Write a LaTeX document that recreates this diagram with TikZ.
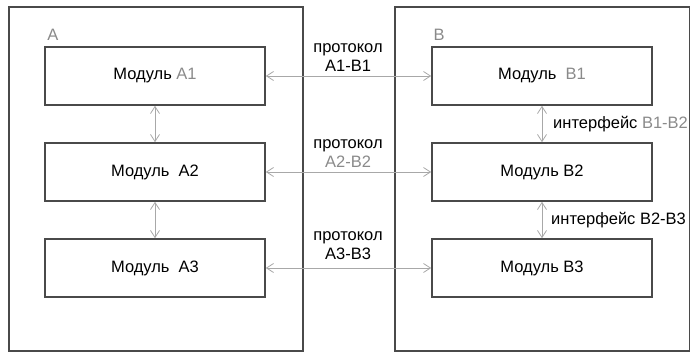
\documentclass[tikz,border=0pt]{standalone}
\usepackage{fontspec}
\setmainfont{Liberation Sans}
\usetikzlibrary{arrows.meta}
\definecolor{frame}{HTML}{4A4A4A}
\definecolor{link}{HTML}{A8A8A8}
\definecolor{faint}{HTML}{8A8A8A}
\begin{document}
\begin{tikzpicture}[x=1pt,y=-1pt,
  every node/.style={font=\fontsize{16.5}{19}\selectfont, text=black, inner sep=0pt},
  system/.style={draw=frame, line width=1.6pt},
  module/.style={draw=frame, line width=1.6pt, minimum width=220pt, minimum height=58pt},
  link/.style={draw=link, line width=0.8pt, {Straight Barb[length=7pt,width=9pt]}-{Straight Barb[length=7pt,width=9pt]}},
  tag/.style={text=faint}]
\useasboundingbox (0,0) rectangle (690,355);
% the two systems
\draw[system] (9,7) rectangle (303,351);
\draw[system] (395,7) rectangle (689.5,351);
\node[tag] (labA) at (53,35) {A};
\node[tag] (labB) at (439,35) {B};
% modules of system A
\node[module] (a1) at (155,76) {Модуль \textcolor{faint}{A1}};
\node[module] (a2) at (155,172) {Модуль\ \ A2};
\node[module] (a3) at (155,268) {Модуль\ \ A3};
% modules of system B
\node[module] (b1) at (542,76) {Модуль\ \ \textcolor{faint}{B1}};
\node[module] (b2) at (542,172) {Модуль B2};
\node[module] (b3) at (542,268) {Модуль B3};
% interfaces inside each system
\draw[link] (a1) -- (a2);
\draw[link] (a2) -- (a3);
\draw[link] (b1) -- (b2);
\draw[link] (b2) -- (b3);
\node[anchor=west] (i12) at (553,124) {интерфейс \textcolor{faint}{B1-B2}};
\node[anchor=west] (i23) at (551,220) {интерфейс\ B2-B3};
% peer protocols between the systems
\draw[link] (a1) -- (b1);
\draw[link] (a2) -- (b2);
\draw[link] (a3) -- (b3);
\node[align=center] (p1) at (348,58) {протокол\\A1-B1};
\node[align=center] (p2) at (348,154) {протокол\\\textcolor{faint}{A2-B2}};
\node[align=center] (p3) at (348,246) {протокол\\A3-B3};
\end{tikzpicture}
\end{document}
